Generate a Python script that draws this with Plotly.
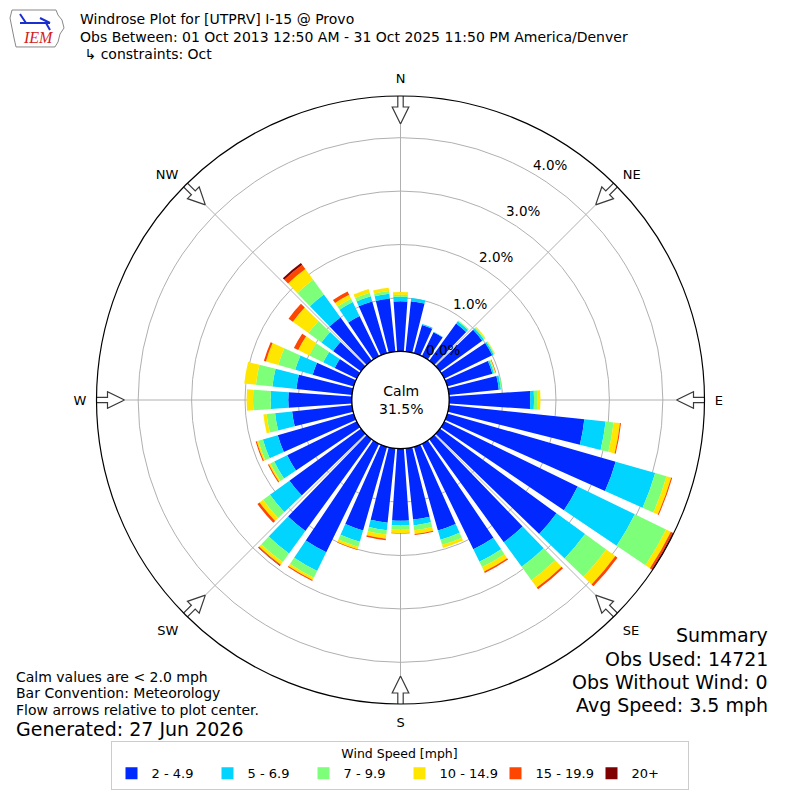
import math
import plotly.graph_objects as go

# wind direction bins (deg, meteorological) and speed classes
directions = list(range(0, 360, 10))
speed_bins = ["2 - 4.9", "5 - 6.9", "7 - 9.9", "10 - 14.9", "15 - 19.9", "20+"]
colors = ["#0028ff", "#00d4ff", "#7dff7a", "#ffe600", "#ff4600", "#800000"]

# percent of observations per direction for each speed class
spd_2_5 = [0.94, 0.95, 0.55, 0.50, 0.86, 0.98, 1.00, 0.88, 0.94, 1.52,
           2.55, 3.28, 2.78, 2.70, 2.38, 2.20, 1.63, 1.34, 1.35, 1.40,
           1.63, 2.26, 2.12, 1.66, 1.45, 1.48, 1.13, 1.19, 1.05, 0.80,
           0.46, 0.65, 1.00, 0.84, 1.01, 1.00]
spd_5_7 = [0.08, 0.06, 0.02, 0.01, 0.05, 0.04, 0.03, 0.03, 0.04, 0.07,
           0.40, 0.77, 1.19, 0.66, 0.57, 0.26, 0.18, 0.11, 0.09, 0.14,
           0.22, 0.39, 0.52, 0.45, 0.27, 0.29, 0.32, 0.33, 0.45, 0.34,
           0.24, 0.27, 0.53, 0.29, 0.10, 0.09]
spd_7_10 = [0.04, 0.00, 0.00, 0.00, 0.02, 0.02, 0.02, 0.02, 0.02, 0.06,
            0.15, 0.22, 0.65, 0.49, 0.31, 0.11, 0.10, 0.09, 0.08, 0.08,
            0.10, 0.14, 0.20, 0.16, 0.08, 0.09, 0.16, 0.33, 0.31, 0.33,
            0.29, 0.30, 0.34, 0.07, 0.07, 0.05]
spd_10_15 = [0.05, 0.00, 0.00, 0.00, 0.00, 0.02, 0.01, 0.01, 0.00, 0.06,
             0.12, 0.09, 0.10, 0.21, 0.17, 0.09, 0.06, 0.07, 0.06, 0.08,
             0.05, 0.05, 0.06, 0.08, 0.03, 0.03, 0.06, 0.12, 0.22, 0.24,
             0.23, 0.36, 0.25, 0.08, 0.07, 0.06]
spd_15_20 = [0.00, 0.00, 0.00, 0.00, 0.00, 0.00, 0.00, 0.01, 0.00, 0.00,
             0.02, 0.02, 0.04, 0.05, 0.04, 0.03, 0.00, 0.02, 0.01, 0.03,
             0.01, 0.02, 0.02, 0.05, 0.02, 0.02, 0.00, 0.00, 0.00, 0.04,
             0.09, 0.10, 0.10, 0.07, 0.00, 0.00]
spd_20p = [0.00, 0.00, 0.00, 0.00, 0.00, 0.00, 0.00, 0.00, 0.00, 0.00,
           0.00, 0.00, 0.02, 0.00, 0.00, 0.00, 0.00, 0.00, 0.00, 0.00,
           0.00, 0.00, 0.01, 0.00, 0.00, 0.00, 0.00, 0.00, 0.00, 0.00,
           0.00, 0.00, 0.04, 0.00, 0.00, 0.00]

compass_deg = [0, 45, 90, 135, 180, 225, 270, 315]
compass_lbl = ["N", "NE", "E", "SE", "S", "SW", "W", "NW"]
ring_vals = [0, 1, 2, 3, 4]
ring_lbls = ["0.0%", "1.0%", "2.0%", "3.0%", "4.0%"]
calm_pct = 31.5

RMAX = 4.78
HOLE = 0.16
R_PX = 304.0          # polar radius in pixels
CX, CY = 400.5, 400.0  # polar centre on screen
OFF = 8.0             # page body margin of the html


def X(px):
    return (px - OFF) / 800.0


def Y(py):
    return 1 - (py - OFF) / 800.0


def px_to_r(p):
    return (p / R_PX - HOLE) / (1 - HOLE) * RMAX


fig = go.Figure()

series = [spd_2_5, spd_5_7, spd_7_10, spd_10_15, spd_15_20, spd_20p]
for name, vals, col in zip(speed_bins, series, colors):
    fig.add_trace(go.Barpolar(
        r=vals, theta=directions, width=8, name=name,
        marker=dict(color=col, line=dict(width=0)),
    ))

# black circle round the calm hole
fig.add_trace(go.Scatterpolar(
    r=[0] * 361, theta=list(range(361)), mode="lines",
    line=dict(color="black", width=1.2), showlegend=False, hoverinfo="skip"))

# flow arrows pointing to the centre
arrow = [(276, 0), (293, 8.3), (293, 2.7), (305.5, 2.7), (305.5, -2.7),
         (293, -2.7), (293, -8.3), (276, 0)]
for d in compass_deg:
    rr = [px_to_r(math.hypot(a, w)) for a, w in arrow]
    tt = [d + math.degrees(math.atan2(w, a)) for a, w in arrow]
    fig.add_trace(go.Scatterpolar(
        r=rr, theta=tt, mode="lines", fill="toself", fillcolor="white",
        line=dict(color="#3a3a3a", width=1.2), showlegend=False,
        hoverinfo="skip", cliponaxis=False))

fig.update_layout(
    width=800, height=800,
    margin=dict(l=0, r=0, t=0, b=0),
    paper_bgcolor="white",
    font=dict(family="DejaVu Sans", color="black"),
    polar=dict(
        domain=dict(x=[X(CX - R_PX), X(CX + R_PX)],
                    y=[Y(CY + R_PX), Y(CY - R_PX)]),
        hole=HOLE,
        bgcolor="white",
        barmode="stack",
        angularaxis=dict(
            rotation=90, direction="clockwise",
            tickmode="array", tickvals=compass_deg, ticktext=compass_lbl,
            ticks="outside", ticklen=7, tickcolor="rgba(0,0,0,0)",
            tickfont=dict(size=13),
            showline=True, linecolor="black", linewidth=1.2,
            gridcolor="#b0b0b0", gridwidth=1,
        ),
        radialaxis=dict(
            range=[0, RMAX], tickmode="array", tickvals=ring_vals,
            showticklabels=False, showline=False, ticks="",
            gridcolor="#b0b0b0", gridwidth=1,
        ),
    ),
    legend=dict(
        orientation="h", x=X(399.5), xanchor="center", y=Y(790), yanchor="bottom",
        title=dict(text="Wind Speed [mph]", side="top center",
                   font=dict(size=12.5)),
        font=dict(size=13), bordercolor="#cccccc", borderwidth=1,
        bgcolor="white", entrywidth=51, entrywidthmode="pixels",
    ),
)

ann = []
# header
for txt, py in [("Windrose Plot for [UTPRV] I-15 @ Provo", 19),
                ("Obs Between: 01 Oct 2013 12:50 AM - 31 Oct 2025 11:50 PM America/Denver", 37),
                (" ↳ constraints: Oct", 54)]:
    ann.append(dict(text=txt, x=X(78), y=Y(py), xanchor="left", yanchor="middle",
                    font=dict(size=14)))
# ring labels along the 30 deg line
hole_px = HOLE * R_PX
step_px = (R_PX - hole_px) / RMAX
for v, lbl in zip(ring_vals, ring_lbls):
    rp = hole_px + v * step_px
    ann.append(dict(text=lbl, x=X(CX + rp * math.sin(math.radians(30)) - 1),
                    y=Y(CY - rp * math.cos(math.radians(30)) + 2),
                    xanchor="left", yanchor="bottom", font=dict(size=13.5)))
# calm
ann.append(dict(text="Calm<br>%.1f%%" % calm_pct, x=X(CX), y=Y(CY), xanchor="center",
                yanchor="middle", font=dict(size=14)))
# bottom left notes
for txt, py in [("Calm values are < 2.0 mph", 677), ("Bar Convention: Meteorology", 693),
                ("Flow arrows relative to plot center.", 710)]:
    ann.append(dict(text=txt, x=X(14), y=Y(py), xanchor="left", yanchor="middle",
                    font=dict(size=14)))
ann.append(dict(text="Generated: 27 Jun 2026", x=X(14), y=Y(729), xanchor="left",
                yanchor="middle", font=dict(size=19)))
# summary
for txt, py in [("Summary", 635), ("Obs Used: 14721", 659),
                ("Obs Without Wind: 0", 682), ("Avg Speed: 3.5 mph", 705)]:
    ann.append(dict(text=txt, x=X(770), y=Y(py), xanchor="right", yanchor="middle",
                    font=dict(size=19)))
# logo text
ann.append(dict(text="<i>IEM</i>", x=X(38), y=Y(38), xanchor="center", yanchor="middle",
                font=dict(size=16, color="#d42020", family="Liberation Serif")))
for a in ann:
    a.update(xref="paper", yref="paper", showarrow=False)
fig.update_layout(annotations=ann)

# rough IEM logo outline
outline = [(12, 10), (56, 10), (58, 15), (62, 20), (64, 28), (60, 34), (58, 42),
           (55, 47), (16, 47), (14, 38), (12, 28), (10, 18), (12, 10)]
path = "M " + " L ".join("%.4f,%.4f" % (X(a), Y(b)) for a, b in outline) + " Z"
shapes = [dict(type="path", path=path, xref="paper", yref="paper",
               line=dict(color="#888888", width=1))]
for (x0, y0, x1, y1) in [(20, 23, 50, 23), (20, 14, 26, 23), (40, 18, 50, 23),
                         (46, 23, 50, 30)]:
    shapes.append(dict(type="line", x0=X(x0), y0=Y(y0), x1=X(x1), y1=Y(y1),
                       xref="paper", yref="paper",
                       line=dict(color="#1a2fd0", width=2)))
fig.update_layout(shapes=shapes)

fig.write_html("out.html")
